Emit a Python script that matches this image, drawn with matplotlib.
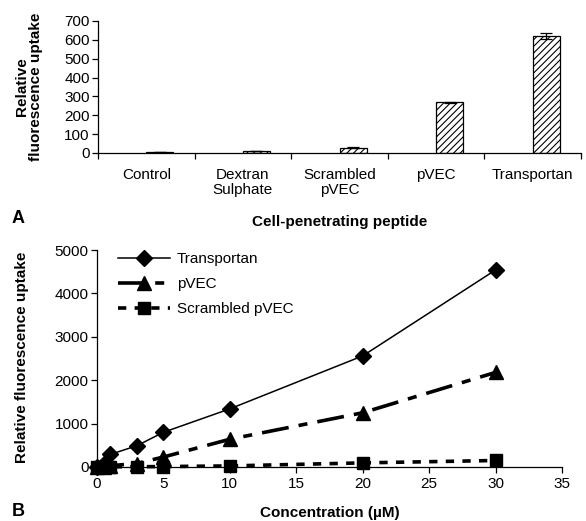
import matplotlib
matplotlib.use("Agg")
import matplotlib.pyplot as plt
import numpy as np

plt.rcParams['font.family'] = ['Liberation Sans', 'DejaVu Sans']
plt.rcParams['hatch.linewidth'] = 0.8

# Panel A data
categories = ["Control", "Dextran\nSulphate", "Scrambled\npVEC", "pVEC", "Transportan"]
uptake = [6, 10, 28, 268, 620]
uptake_err = [1, 2, 4, 5, 18]

# Panel B data
conc = [0, 0.5, 1, 3, 5, 10, 20, 30]
transportan = [0, 60, 290, 490, 800, 1340, 2560, 4540]
pvec = [0, 10, 30, 80, 230, 640, 1250, 2180]
scrambled = [0, 2, 4, 6, 10, 25, 95, 150]

FS = 11

fig = plt.figure(figsize=(5.86, 5.21), dpi=100)

# ---- Panel A ----
axA = fig.add_axes([98/586, 1-153/521, (581-98)/586, (153-21)/521])
x = np.arange(len(categories))
axA.bar(x, uptake, width=0.28, align='edge', color='white', edgecolor='black',
        hatch='/////', linewidth=0.9)
axA.errorbar(x + 0.14, uptake, yerr=uptake_err, fmt='none', ecolor='black',
             elinewidth=0.9, capsize=4, capthick=0.9)
axA.set_xlim(-0.5, 4.5)
axA.set_ylim(0, 700)
axA.set_yticks(range(0, 701, 100))
axA.set_xticks(np.arange(-0.5, 4.6, 1))
axA.set_xticklabels([])
axA.set_xticks(x, minor=True)
axA.set_xticklabels(categories, minor=True, fontsize=FS, linespacing=1.05)
axA.tick_params(axis='x', which='minor', length=0, pad=11)
axA.tick_params(axis='x', which='major', length=4, direction='out', width=0.9)
axA.tick_params(axis='y', length=4, direction='out', width=0.9, labelsize=FS, pad=2)
for s in ['top', 'right']:
    axA.spines[s].set_visible(False)
for s in ['left', 'bottom']:
    axA.spines[s].set_linewidth(0.9)

fig.text(29/586, 1-87/521, "Relative\nfluorescence uptake", rotation=90, ha='center',
         va='center', fontsize=FS, fontweight='bold', linespacing=1.0)
fig.text(340/586, 1-222/521, "Cell-penetrating peptide", ha='center', va='center',
         fontsize=FS, fontweight='bold')
fig.text(18/586, 1-218/521, "A", ha='center', va='center', fontsize=13, fontweight='bold')

# ---- Panel B ----
axB = fig.add_axes([97/586, 1-467/521, (562-97)/586, (467-250)/521])
axB.plot(conc, transportan, color='black', lw=1.1, marker='D', markersize=8.5,
         label='Transportan', clip_on=False, zorder=3)
axB.plot(conc, pvec, color='black', lw=2.6, marker='^', markersize=10.5,
         dashes=(7.5, 2.8, 2.5, 2.8), label='pVEC', clip_on=False, zorder=3)
axB.plot(conc, scrambled, color='black', lw=2.6, marker='s', markersize=8,
         dashes=(2.3, 2.3), label='Scrambled pVEC', clip_on=False, zorder=3)
axB.set_xlim(0, 35)
axB.set_ylim(0, 5000)
axB.set_xticks(range(0, 36, 5))
axB.set_yticks(range(0, 5001, 1000))
axB.tick_params(axis='both', length=4, direction='out', width=0.9, labelsize=FS)
axB.tick_params(axis='y', pad=2)
for s in ['top', 'right']:
    axB.spines[s].set_visible(False)
for s in ['left', 'bottom']:
    axB.spines[s].set_linewidth(0.9)
leg = axB.legend(loc='upper left', bbox_to_anchor=(0.045, 0.99), frameon=False,
                 fontsize=FS, handlelength=3.4, handletextpad=0.45, labelspacing=0.72,
                 borderaxespad=0.0, borderpad=0.0)

fig.text(22/586, 1-357/521, "Relative fluorescence uptake", rotation=90, ha='center',
         va='center', fontsize=FS, fontweight='bold')
fig.text(330/586, 1-513/521, "Concentration (\u00b5M)", ha='center', va='center',
         fontsize=FS, fontweight='bold')
fig.text(18/586, 1-512/521, "B", ha='center', va='center', fontsize=13, fontweight='bold')

fig.savefig("out.png", dpi=100)
